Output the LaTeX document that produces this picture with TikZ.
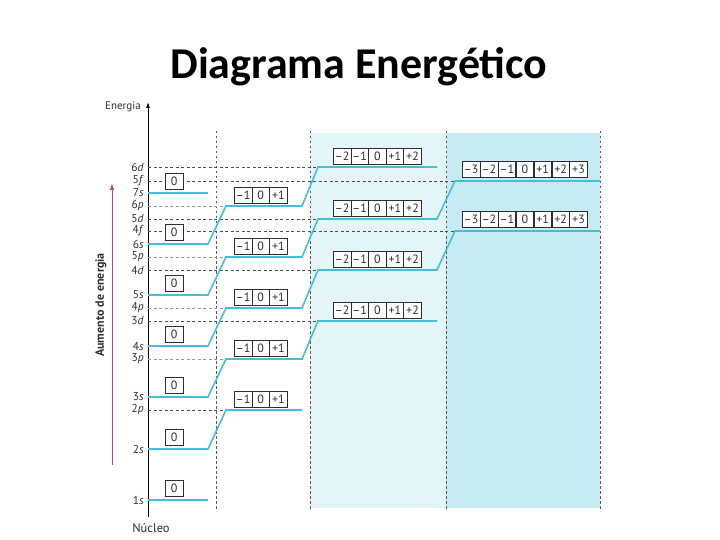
\documentclass[tikz,border=0pt]{standalone}
\usepackage{fontspec}
\setmainfont{PT Sans}
\newfontfamily\titlefont{Carlito}
\usetikzlibrary{arrows.meta, positioning}
\definecolor{Orb}  {HTML}{45BFD8}
\definecolor{DBg}  {HTML}{E4F5F8}
\definecolor{FBg}  {HTML}{C6EBF2}
\definecolor{Mag}  {HTML}{C4428A}
\definecolor{DGray}{HTML}{2E2E2E}
\tikzset{
  orb/.style={draw=Orb, line width=1.6pt},
  gdark/.style={draw=black!70, line width=0.6pt, dash pattern=on 3pt off 2.5pt},
  glight/.style={draw=black!40, line width=0.6pt, dash pattern=on 3pt off 2.5pt},
  sep/.style={draw=black!65, line width=0.6pt, dash pattern=on 2.5pt off 2.5pt},
  cell/.style={
    rectangle, draw=DGray, fill=white, text=DGray,
    line width=0.6pt, minimum width=17.6pt, minimum height=16pt,
    inner sep=0pt, anchor=south west,
    font=\fontsize{12}{12}\selectfont,
  },
  lbl/.style={font=\fontsize{11.5}{11.5}\selectfont, text=DGray, inner sep=0pt},
}
\begin{document}
\begin{tikzpicture}[x=1pt,y=-1pt]
  \useasboundingbox (0,0) rectangle (720,540);
  \node[font=\titlefont\bfseries\fontsize{44}{44}\selectfont] (title) at (359,67) {Diagrama Energético};

  % shaded columns and separators
  \fill[DBg] (310,133) rectangle (446,508);
  \fill[FBg] (446,133) rectangle (600,508);
  \foreach \xx in {216,310,446,600}
    \draw[sep] (\xx,131) -- (\xx,511);

  % energy axis
  \coordinate (ax0) at (148,517);
  \coordinate (ax1) at (148,102);
  \draw[line width=0.9pt, -{Latex[length=6pt,width=4pt]}] (ax0) -- (ax1);
  \node[lbl, font=\fontsize{11}{11}\selectfont] (energ) at (123,107) {Energia};
  \node[lbl, font=\fontsize{12.5}{12.5}\selectfont, below=6pt of ax0, xshift=3pt] (nucl) {Núcleo};

  % increasing energy
  \coordinate (mg0) at (112,465);
  \coordinate (mg1) at (112,183);
  \draw[Mag, line width=1pt, -{Latex[length=7pt,width=4.5pt]}] (mg0) -- (mg1);
  \node[rotate=90, font=\bfseries\fontsize{12}{12}\selectfont, text=DGray] (aum) at (101,305) {Aumento de energia};

  % p levels
  \foreach \n/\yy/\g in {2/410/gdark,3/359/glight,4/308/glight,5/257/glight,6/206/glight}{
    \coordinate (p\n a) at (226,\yy);
    \coordinate (p\n b) at (302,\yy);
    \draw[\g] (p\n a -| ax0) -- (p\n a);
    \node[lbl, left=4pt] (lp\n) at (p\n a -| ax0) {\n\textit{p}};
    \foreach \v [count=\i from 0] in {--1,0,+1}
      \node[cell] (bp\n-\i) at (234+17.6*\i,\yy-2) {\v};
  }
  % d levels
  \foreach \n/\yy in {3/321,4/270,5/219,6/167}{
    \coordinate (d\n a) at (318,\yy);
    \coordinate (d\n b) at (437,\yy);
    \draw[gdark] (d\n a -| ax0) -- (d\n a);
    \node[lbl, left=4pt] (ld\n) at (d\n a -| ax0) {\n\textit{d}};
    \foreach \v [count=\i from 0] in {--2,--1,0,+1,+2}
      \node[cell] (bd\n-\i) at (333+17.6*\i,\yy-2) {\v};
  }
  % f levels
  \foreach \n/\yy in {4/231,5/181}{
    \coordinate (f\n a) at (455,\yy);
    \coordinate (f\n b) at (600,\yy);
    \draw[gdark] (f\n a -| ax0) -- (f\n a);
    \node[lbl, left=4pt] (lf\n) at (f\n a -| ax0) {\n\textit{f}};
    \foreach \v [count=\i from 0] in {--3,--2,--1,0,+1,+2,+3}
      \node[cell] (bf\n-\i) at (462+17.9*\i,\yy-3) {\v};
  }
  % s levels (boxes over the guides)
  \foreach \n/\yy in {1/500,2/449,3/397,4/346,5/295,6/244,7/193}{
    \coordinate (s\n a) at (148,\yy);
    \coordinate (s\n b) at (208,\yy);
    \node[lbl, left=4pt] (ls\n) at (s\n a) {\n\textit{s}};
    \node[cell] (bs\n) at (165,\yy-3) {0};
  }

  % orbital lines of each shell
  \draw[orb] (s1a) -- (s1b);
  \draw[orb] (s2a) -- (s2b) -- (p2a) -- (p2b);
  \draw[orb] (s3a) -- (s3b) -- (p3a) -- (p3b) -- (d3a) -- (d3b);
  \draw[orb] (s4a) -- (s4b) -- (p4a) -- (p4b) -- (d4a) -- (d4b) -- (f4a) -- (f4b);
  \draw[orb] (s5a) -- (s5b) -- (p5a) -- (p5b) -- (d5a) -- (d5b) -- (f5a) -- (f5b);
  \draw[orb] (s6a) -- (s6b) -- (p6a) -- (p6b) -- (d6a) -- (d6b);
  \draw[orb] (s7a) -- (s7b);
\end{tikzpicture}
\end{document}
